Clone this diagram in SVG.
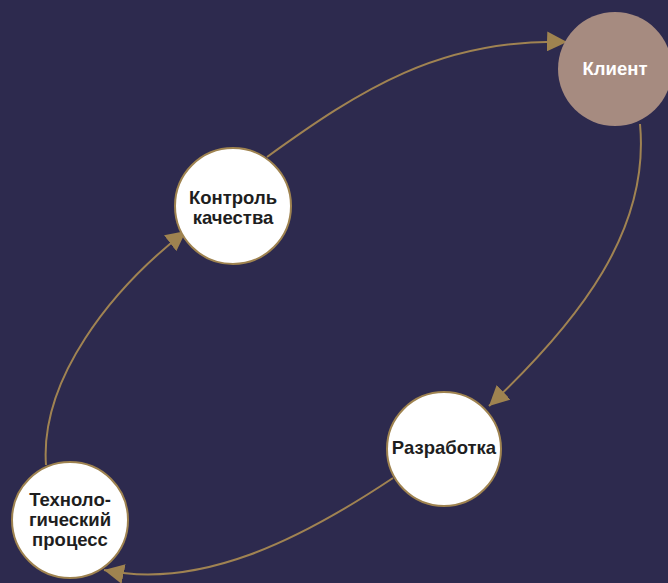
<svg xmlns="http://www.w3.org/2000/svg" width="668" height="583" viewBox="0 0 668 583">
<defs>
<marker id="arr" markerUnits="userSpaceOnUse" markerWidth="22" markerHeight="20" refX="20" refY="10" orient="auto" viewBox="0 0 22 20">
<path d="M0,0 L20,10 L0,20 Z" fill="#9f8350"/>
</marker>
<style>
.edge{fill:none;stroke:#a08352;stroke-width:2;marker-end:url(#arr)}
.node{fill:#ffffff;stroke:#9f8350;stroke-width:2}
.t{font-family:"Liberation Sans",Arial,sans-serif;font-weight:bold;font-size:18.5px;text-anchor:middle;fill:#1e1e1e}
</style>
</defs>
<rect width="668" height="583" fill="#2d2a4e"/>
<g id="connectors">
<path class="edge" d="M267,157 C360,90 440,38 567,42"/>
<path class="edge" d="M640,124 C650,230 580,320 489,406"/>
<path class="edge" d="M393,478 C300,540 200,590 104,570"/>
<path class="edge" d="M46,465 C40,380 110,290 186,231"/>
</g>
<g id="klient">
<circle cx="615" cy="69" r="57" fill="#a68b80"/>
<text class="t" x="615" y="75" style="fill:#ffffff">Клиент</text>
</g>
<g id="kontrol">
<circle class="node" cx="233" cy="206" r="58"/>
<text class="t" x="233" y="204">Контроль</text>
<text class="t" x="233" y="224">качества</text>
</g>
<g id="razrabotka">
<circle class="node" cx="444" cy="449" r="57"/>
<text class="t" x="444" y="454">Разработка</text>
</g>
<g id="tekhno">
<circle class="node" cx="70" cy="520" r="58"/>
<text class="t" x="70" y="506">Техноло-</text>
<text class="t" x="70" y="526">гический</text>
<text class="t" x="70" y="546">процесс</text>
</g>
</svg>
